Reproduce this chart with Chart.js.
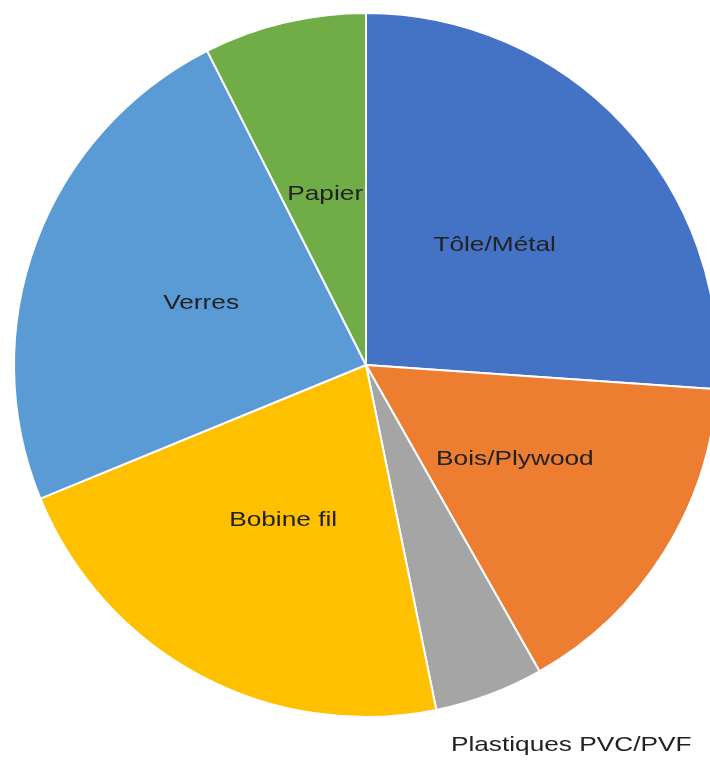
<!DOCTYPE html>
<html>
<head>
<meta charset="utf-8">
<script src="https://cdn.jsdelivr.net/npm/chart.js@4/dist/chart.umd.min.js"></script>
<style>
    html, body { margin: 0; padding: 0; background: #fff; }
    #wrap { width: 710px; height: 761px; }
</style>
</head>
<body>
<div id="wrap"><canvas id="waste-chart"></canvas></div>
<script>
// clockwise from 12 o'clock (percent)
const categories = ["Tôle/Métal", "Bois/Plywood", "Plastiques PVC/PVF", "Bobine fil", "Verres", "Papier"];
const shares = [26.1, 15.7, 5.0, 22.0, 23.75, 7.45];
const sliceColors = ["#4472C4", "#ED7D31", "#A5A5A5", "#FFC000", "#5B9BD5", "#70AD47"];

// labels drawn inside the slices, the small grey one sits outside bottom right
const sliceLabels = {
    id: "sliceLabels",
    afterDatasetsDraw(chart) {
        const ctx = chart.ctx
        const arcs = chart.getDatasetMeta(0).data
        ctx.save()
        ctx.font = "21px 'Liberation Sans', Arial, sans-serif"
        ctx.fillStyle = "#222"
        ctx.textBaseline = "middle"
        arcs.forEach((arc, i) => {
            const p = arc.getProps(["x", "y", "startAngle", "endAngle", "outerRadius"], true)
            const mid = (p.startAngle + p.endAngle) / 2
            let x, y, align = "center"
            if (i === 2) {
                x = p.x + p.outerRadius * 0.925
                y = p.y + p.outerRadius * 1.08
                align = "right"
            } else {
                x = p.x + Math.cos(mid) * p.outerRadius * 0.5
                y = p.y + Math.sin(mid) * p.outerRadius * 0.5
            }
            ctx.save()
            ctx.translate(x, y)
            ctx.scale(1.25, 1)
            ctx.textAlign = align
            ctx.fillText(categories[i], 0, 0)
            ctx.restore()
        })
        ctx.restore()
    }
}

const wasteChart = new Chart(document.getElementById("waste-chart").getContext("2d"), {
    type: "pie",
    data: {
        labels: categories,
        datasets: [{
            data: shares,
            backgroundColor: sliceColors,
            borderColor: "#ffffff",
            borderWidth: 2,
            clip: false,
        }],
    },
    options: {
        responsive: true,
        maintainAspectRatio: false,
        animation: false,
        radius: 352,
        layout: {
            padding: { left: 22, right: 0, top: 0, bottom: 31 },
        },
        plugins: {
            legend: { display: false },
            tooltip: { enabled: false },
        },
    },
    plugins: [sliceLabels],
});
</script>
</body>
</html>
